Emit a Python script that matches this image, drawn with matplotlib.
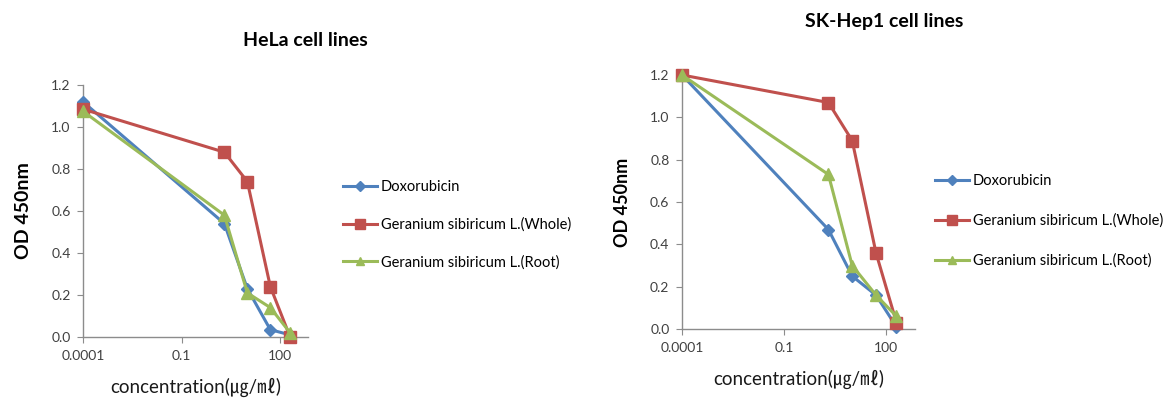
import matplotlib
matplotlib.use("Agg")
import matplotlib.pyplot as plt
from matplotlib.ticker import FixedLocator, FixedFormatter, NullLocator
from matplotlib.lines import Line2D

plt.rcParams['font.family'] = ['Lato', 'Noto Sans CJK KR', 'DejaVu Sans']

# ---- data ----
conc = [0.0001, 2, 10, 50, 200]
series_names = ["Doxorubicin",
                "Geranium sibiricum L.(Whole)",
                "Geranium sibiricum L.(Root)"]

hela_dox = [1.12, 0.54, 0.23, 0.035, 0.01]
hela_whole = [1.085, 0.88, 0.74, 0.24, 0.0]
hela_root = [1.075, 0.58, 0.21, 0.14, 0.02]

sk_dox = [1.2, 0.47, 0.25, 0.16, 0.01]
sk_whole = [1.2, 1.07, 0.89, 0.36, 0.03]
sk_root = [1.2, 0.73, 0.30, 0.16, 0.06]

xtick_vals = [0.0001, 0.1, 100]
xtick_labels = ["0.0001", "0.1", "100"]
ytick_vals = [0.0, 0.2, 0.4, 0.6, 0.8, 1.0, 1.2]

colors = ["#4F81BD", "#C0504D", "#9BBB59"]
markers = ["D", "s", "^"]
msizes = [6, 8.5, 8]

W, H = 1175, 401
fig = plt.figure(figsize=(W / 100, H / 100), dpi=100)


def px_axes(x0, y0, x1, y1):
    return fig.add_axes([x0 / W, 1 - y1 / H, (x1 - x0) / W, (y1 - y0) / H])


def style(ax, ylab_size, xlab_size):
    ax.set_xscale('log')
    ax.set_xlim(0.0001, 700)
    ax.set_ylim(0, 1.2)
    ax.xaxis.set_major_locator(FixedLocator(xtick_vals))
    ax.xaxis.set_major_formatter(FixedFormatter(xtick_labels))
    ax.xaxis.set_minor_locator(NullLocator())
    ax.set_yticks(ytick_vals)
    ax.set_yticklabels([f"{v:.1f}" for v in ytick_vals])
    for s in ['top', 'right']:
        ax.spines[s].set_visible(False)
    for s in ['left', 'bottom']:
        ax.spines[s].set_color('#8c8c8c')
        ax.spines[s].set_linewidth(1.0)
    ax.tick_params(axis='both', direction='out', length=4, color='#8c8c8c',
                   labelsize=10, labelcolor='#404040', pad=5)
    ax.set_ylabel("OD 450nm", fontsize=ylab_size, fontweight='bold', labelpad=14)
    ax.set_xlabel("concentration(㎍/㎖)", fontsize=xlab_size, labelpad=12,
                  color='#1a1a1a')


def draw(ax, data):
    for ys, c, m, ms in zip(data, colors, markers, msizes):
        ax.plot(conc, ys, color=c, marker=m, markersize=ms, linewidth=2.2,
                markeredgecolor=c, clip_on=False, zorder=3)


ax1 = px_axes(83, 85, 308, 337)
draw(ax1, [hela_dox, hela_whole, hela_root])
style(ax1, 14, 13.5)
fig.text(305 / W, 1 - 40 / H, "HeLa cell lines", ha='center', va='center',
         fontsize=14, fontweight='bold')

ax2 = px_axes(682, 75, 915, 329)
draw(ax2, [sk_dox, sk_whole, sk_root])
style(ax2, 13, 13.5)
fig.text(884 / W, 1 - 22 / H, "SK-Hep1 cell lines", ha='center', va='center',
         fontsize=14, fontweight='bold')

handles = [Line2D([0], [0], color=c, marker=m, markersize=ms * 0.8, linewidth=2.2,
                  markeredgecolor=c) for c, m, ms in zip(colors, markers, msizes)]

fig.legend(handles, series_names, loc='upper left',
           bbox_to_anchor=(330 / W, 1 - 167 / H), frameon=False, fontsize=10.5,
           labelspacing=1.6, handlelength=2.3, handletextpad=0.3)
fig.legend(handles, series_names, loc='upper left',
           bbox_to_anchor=(922 / W, 1 - 161 / H), frameon=False, fontsize=10.5,
           labelspacing=1.75, handlelength=2.3, handletextpad=0.3)

fig.savefig("out.png", dpi=100)
